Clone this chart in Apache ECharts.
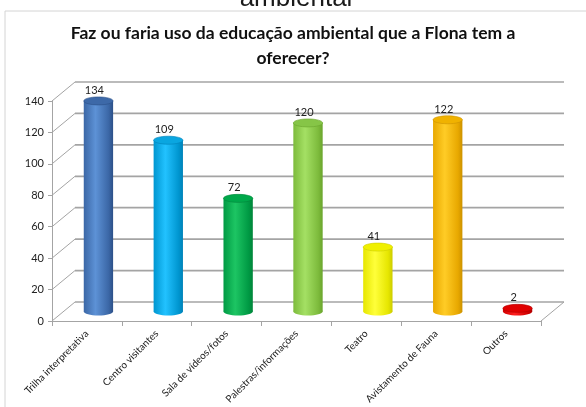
<!DOCTYPE html>
<html>
<head>
<meta charset="utf-8">
<script src="https://cdn.jsdelivr.net/npm/echarts@6/dist/echarts.min.js"></script>
<style>
  html, body { margin: 0; padding: 0; background: #fff; }
  #chart { width: 586px; height: 407px; }
</style>
</head>
<body>
<div id="chart"></div>
<script>
// Survey answers: "Faz ou faria uso da educação ambiental que a Flona tem a oferecer?"
const categories = [
  'Trilha interpretativa',
  'Centro visitantes',
  'Sala de vídeos/fotos',
  'Palestras/informações',
  'Teatro',
  'Avistamento de Fauna',
  'Outros'
];
const counts = [134, 109, 72, 120, 41, 122, 2];
const yTicks = [0, 20, 40, 60, 80, 100, 120, 140];

// Cylinder shading per bar: [edge, highlight, dark edge, top cap]
const palette = [
  ['#3b67a6', '#5d92d6', '#2c5088', '#3d69a8'],
  ['#0096d0', '#22c2ff', '#0082b8', '#0aa6e0'],
  ['#009a44', '#1dc563', '#00853a', '#00a84a'],
  ['#7dbb3c', '#a4e064', '#6aa52d', '#86c547'],
  ['#e6e600', '#ffff3a', '#cccc00', '#f0f000'],
  ['#e8a800', '#ffcc26', '#cc9200', '#f0b200'],
  ['#d00000', '#ff2020', '#b00000', '#e00000']
];

// 3D depth of the plot box (back wall offset from the front plane)
const DX = 23, DY = -19;
const WALL = '#a4a4a4';

const chart = echarts.init(document.getElementById('chart'), null, { renderer: 'canvas' });

function wallItem(params, api) {
  const cs = params.coordSys;
  const y = api.coord([0, api.value(1)])[1];
  const x0 = cs.x, x1 = cs.x + cs.width;
  const children = [
    { type: 'line', shape: { x1: x0, y1: y, x2: x0 + DX, y2: y + DY },
      style: { stroke: WALL, lineWidth: 1 } },
    { type: 'line', shape: { x1: x0 + DX, y1: y + DY, x2: x1 + DX, y2: y + DY },
      style: { stroke: WALL, lineWidth: 1.7 } }
  ];
  if (api.value(1) === 0) {
    children.push({ type: 'line', shape: { x1: x1, y1: y, x2: x1 + DX, y2: y + DY },
      style: { stroke: WALL, lineWidth: 1 } });
  }
  return { type: 'group', children };
}

function cylinderItem(params, api) {
  const i = api.value(0), v = api.value(1);
  const top = api.coord([i, v]);
  const base = api.coord([i, 0]);
  const w = api.size([1, 0])[0] * 0.42;
  const cx = top[0] + DX / 2;
  const yt = top[1] + DY / 2;
  const yb = base[1] + DY / 2;
  const ry = 4;
  const c = palette[i];
  const side = new echarts.graphic.LinearGradient(0, 0, 1, 0, [
    { offset: 0, color: c[0] },
    { offset: 0.4, color: c[1] },
    { offset: 0.85, color: c[0] },
    { offset: 1, color: c[2] }
  ]);
  const children = [];
  if (yb - yt > 1) {
    children.push(
      { type: 'ellipse', shape: { cx: cx, cy: yb, rx: w / 2, ry: ry }, style: { fill: side } },
      { type: 'rect', shape: { x: cx - w / 2, y: yt, width: w, height: yb - yt }, style: { fill: side } }
    );
  }
  children.push(
    { type: 'ellipse', shape: { cx: cx, cy: yt, rx: w / 2, ry: ry },
      style: { fill: c[3], stroke: c[2], lineWidth: 0.6 } },
    { type: 'text', style: {
        text: String(v), x: cx - 4, y: yt - ry - 1,
        textAlign: 'center', textVerticalAlign: 'bottom',
        font: '11px "Lato"', fill: '#222' } }
  );
  return { type: 'group', children };
}

chart.setOption({
  animation: false,
  backgroundColor: '#fff',
  title: {
    text: 'Faz ou faria uso da educação ambiental que a Flona tem a\noferecer?',
    left: 'center',
    top: 16,
    textStyle: { fontFamily: 'Lato', fontWeight: 'bold', fontSize: 17.5, lineHeight: 25, color: '#111' }
  },
  graphic: [
    { type: 'rect', shape: { x: 5, y: 11, width: 700, height: 500 },
      style: { fill: 'none', stroke: '#d4d4d4', lineWidth: 1 }, z: -10 },
    { type: 'text', style: { text: 'ambiental', x: 296, y: -1, textAlign: 'center',
      textVerticalAlign: 'middle', font: '26px "Liberation Sans"', fill: '#1a1a1a' } }
  ],
  grid: { left: 52, right: 45, top: 101, bottom: 86 },
  xAxis: {
    type: 'category',
    data: categories,
    boundaryGap: true,
    axisLine: { show: true, lineStyle: { color: WALL, width: 1 } },
    axisTick: { show: true, interval: 0, length: 5, lineStyle: { color: WALL } },
    axisLabel: { interval: 0, rotate: 45, fontFamily: 'Lato', fontSize: 10, color: '#222', margin: 11 }
  },
  yAxis: {
    type: 'value',
    min: 0, max: 140, interval: 20,
    axisLine: { show: true, lineStyle: { color: WALL, width: 1 } },
    axisTick: { show: true, length: 4, lineStyle: { color: WALL } },
    axisLabel: { fontFamily: 'Lato', fontSize: 11, color: '#222', margin: 8 },
    splitLine: { show: false }
  },
  series: [
    {
      type: 'custom',
      renderItem: wallItem,
      data: yTicks.map(t => [0, t]),
      z: 1,
      silent: true
    },
    {
      type: 'custom',
      renderItem: cylinderItem,
      data: counts.map((v, i) => [i, v]),
      z: 5
    }
  ]
});
</script>
</body>
</html>
